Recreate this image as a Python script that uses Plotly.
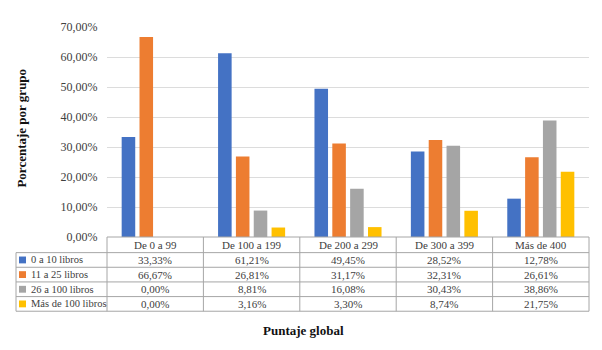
import plotly.graph_objects as go

categories = ["De 0 a 99", "De 100 a 199", "De 200 a 299", "De 300 a 399", "Más de 400"]
series_names = ["0 a 10 libros", "11 a 25 libros", "26 a 100 libros", "Más de 100 libros"]
s_0_10 = [33.33, 61.21, 49.45, 28.52, 12.78]
s_11_25 = [66.67, 26.81, 31.17, 32.31, 26.61]
s_26_100 = [0.00, 8.81, 16.08, 30.43, 38.86]
s_100_plus = [0.00, 3.16, 3.30, 8.74, 21.75]
series_values = [s_0_10, s_11_25, s_26_100, s_100_plus]
colors = ["#4472C4", "#ED7D31", "#A5A5A5", "#FFC000"]
y_ticks = [0, 10, 20, 30, 40, 50, 60, 70]
y_tick_labels = ["0,00%", "10,00%", "20,00%", "30,00%", "40,00%", "50,00%", "60,00%", "70,00%"]

# page body has an 8px margin; work in window pixels and shift
OFF = 8
W, H = 602 - OFF, 350 - OFF
PL, PR, PT, PB = 107, 589, 22, 237   # window pixel coords of plot area
FONT = "Liberation Serif"
LINE = "#a6a6a6"
TXT = "#404040"


def px(xp):
    return (xp - PL) / (PR - PL)


def py(yp):
    return (PB - yp) / (PB - PT)


fig = go.Figure()
for name, vals, col in zip(series_names, series_values, colors):
    fig.add_trace(go.Bar(x=categories, y=vals, name=name, marker=dict(color=col, line=dict(width=0))))

shapes = []
annotations = []

left_x = 16
row_edges = [237, 253, 268, 283, 298, 313]
ncat = len(categories)
col_w = (PR - PL) / ncat
col_edges = [PL + i * col_w for i in range(ncat + 1)]


def hline(x0, x1, y):
    shapes.append(dict(type="line", xref="paper", yref="paper", x0=px(x0), x1=px(x1), y0=py(y), y1=py(y),
                       line=dict(color=LINE, width=1)))


def vline(x, y0, y1):
    shapes.append(dict(type="line", xref="paper", yref="paper", x0=px(x), x1=px(x), y0=py(y0), y1=py(y1),
                       line=dict(color=LINE, width=1)))


hline(PL, PR, row_edges[0])
for y in row_edges[1:]:
    hline(left_x, PR, y)
vline(left_x, row_edges[1], row_edges[-1])
for x in col_edges:
    vline(x, row_edges[0], row_edges[-1])

for i, c in enumerate(categories):
    annotations.append(dict(text=c, xref="paper", yref="paper", x=px(PL + (i + 0.5) * col_w),
                            y=py((row_edges[0] + row_edges[1]) / 2), showarrow=False,
                            font=dict(family=FONT, size=11, color=TXT), xanchor="center", yanchor="middle"))

for r, (name, vals, col) in enumerate(zip(series_names, series_values, colors)):
    yc = (row_edges[r + 1] + row_edges[r + 2]) / 2
    shapes.append(dict(type="rect", xref="paper", yref="paper", x0=px(19), x1=px(26), y0=py(yc + 3.5), y1=py(yc - 3.5),
                       fillcolor=col, line=dict(width=0)))
    annotations.append(dict(text=name, xref="paper", yref="paper", x=px(28.5), y=py(yc), showarrow=False,
                            font=dict(family=FONT, size=10.5, color=TXT), xanchor="left", yanchor="middle"))
    for i, v in enumerate(vals):
        annotations.append(dict(text=f"{v:.2f}".replace(".", ",") + "%", xref="paper", yref="paper",
                                x=px(PL + (i + 0.5) * col_w), y=py(yc), showarrow=False,
                                font=dict(family=FONT, size=11, color=TXT), xanchor="center", yanchor="middle"))

annotations.append(dict(text="<b>Porcentaje por grupo</b>", xref="paper", yref="paper", x=px(22), y=py(126),
                        textangle=-90, showarrow=False, font=dict(family=FONT, size=13, color="#111111"),
                        xanchor="center", yanchor="middle"))
annotations.append(dict(text="<b>Puntaje global</b>", xref="paper", yref="paper", x=px(303), y=py(333),
                        showarrow=False, font=dict(family=FONT, size=13, color="#111111"),
                        xanchor="center", yanchor="middle"))

fig.update_layout(
    width=W, height=H,
    margin=dict(l=PL - OFF, r=602 - PR, t=PT - OFF, b=350 - PB),
    paper_bgcolor="white", plot_bgcolor="white",
    barmode="group", bargap=0.26, bargroupgap=0.24,
    showlegend=False,
    shapes=shapes, annotations=annotations,
    font=dict(family=FONT, size=12, color=TXT),
)
fig.update_xaxes(showticklabels=False, showgrid=False, zeroline=False, showline=False, ticks="")
fig.update_yaxes(range=[0, 70], tickvals=y_ticks, ticktext=y_tick_labels, showgrid=True, gridcolor="#dcdcdc",
                 gridwidth=1, zeroline=False, showline=False, ticks="outside", ticklen=6,
                 tickcolor="rgba(0,0,0,0)", tickfont=dict(family=FONT, size=12, color=TXT))

fig.write_html("out.html")
